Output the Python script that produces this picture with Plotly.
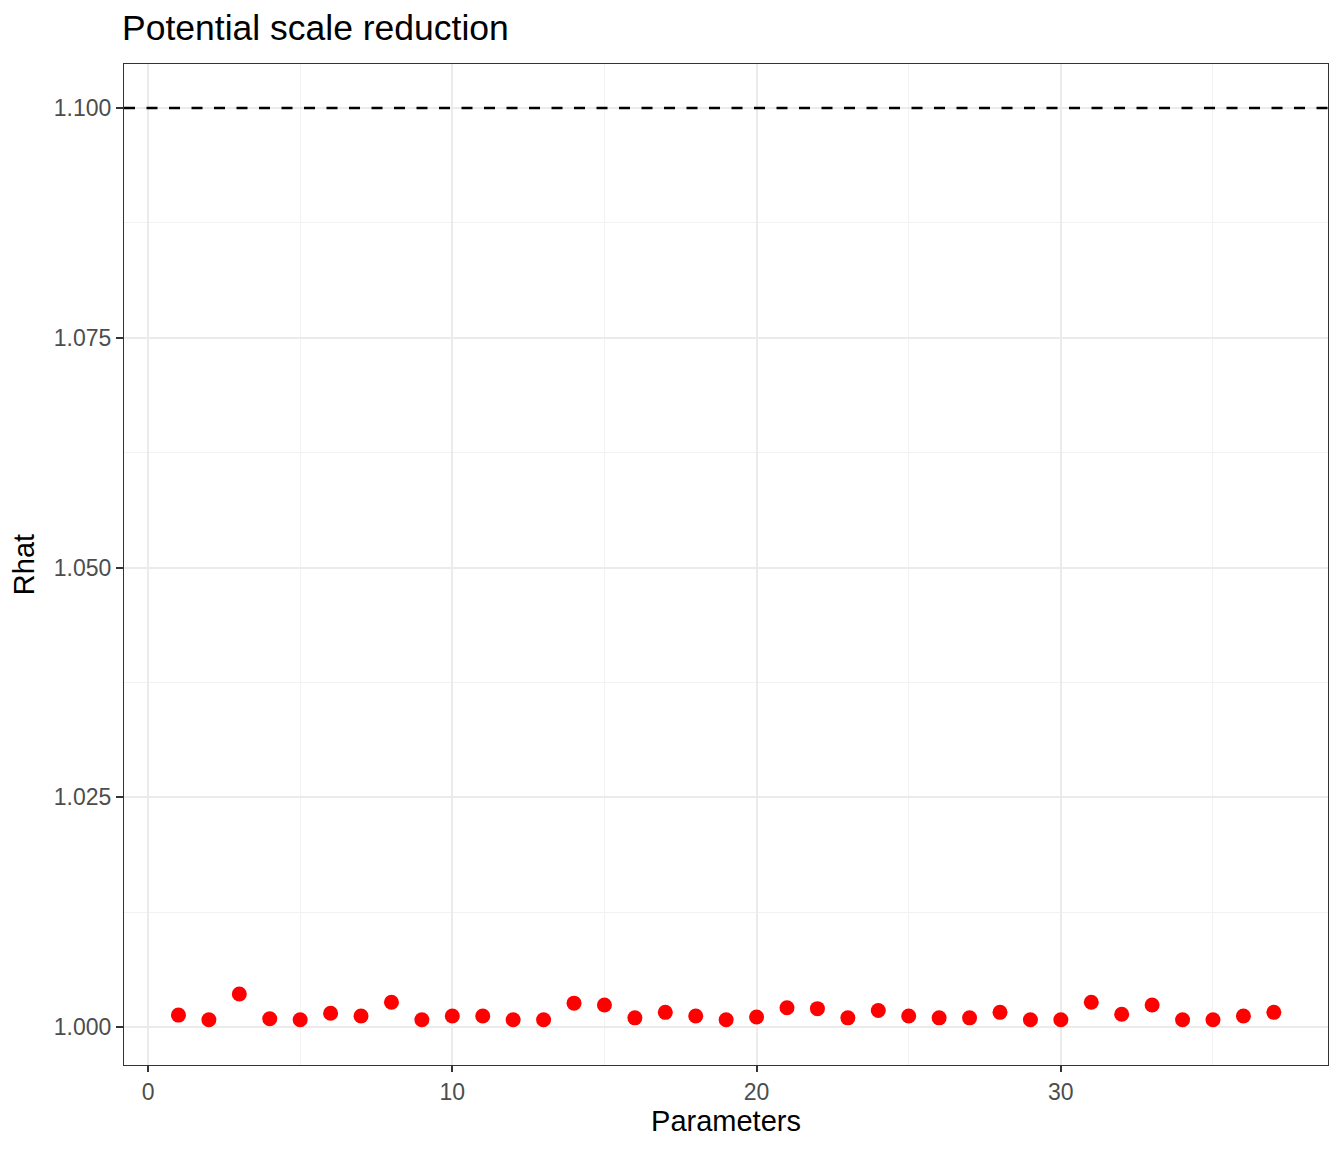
import plotly.graph_objects as go

# Rhat values per parameter
params = list(range(1, 38))
rhat = [1.0013, 1.0008, 1.0036, 1.0009, 1.0008, 1.0015, 1.0012, 1.0027, 1.0008, 1.0012,
        1.0012, 1.0008, 1.0008, 1.0026, 1.0024, 1.0010, 1.0016, 1.0012, 1.0008, 1.0011,
        1.0021, 1.0020, 1.0010, 1.0018, 1.0012, 1.0010, 1.0010, 1.0016, 1.0008, 1.0008,
        1.0027, 1.0014, 1.0024, 1.0008, 1.0008, 1.0012, 1.0016]
threshold = 1.1

fig = go.Figure()

fig.add_trace(go.Scatter(
    x=params, y=rhat, mode='markers',
    marker=dict(color='red', size=15),
    showlegend=False, hoverinfo='x+y'
))

fig.add_hline(y=threshold, line=dict(color='black', width=2.5, dash='11px,11.5px'))

fig.update_layout(
    width=1344, height=1152,
    title=dict(text="Potential scale reduction", x=122/1344, xanchor='left',
               y=1 - 28/1152, yanchor='middle',
               font=dict(size=35.5, color='black')),
    font=dict(family="Liberation Sans, Arial, sans-serif"),
    plot_bgcolor='white', paper_bgcolor='white',
    margin=dict(l=124, r=16, t=64, b=87),
)

fig.update_xaxes(
    range=[-0.79, 38.78], tickvals=[0, 10, 20, 30],
    showgrid=True, gridcolor='#ebebeb', gridwidth=2,
    minor=dict(tickvals=[5, 15, 25, 35], showgrid=True, gridcolor='#f2f2f2', gridwidth=1),
    ticks='outside', ticklen=6, tickwidth=1.5, tickcolor='#333333',
    tickfont=dict(size=23, color='#4d4d4d'),
    showline=True, linecolor='#333333', mirror=True, zeroline=False,
    title=dict(text="Parameters", font=dict(size=29, color='black'), standoff=4),
)

fig.update_yaxes(
    range=[0.99587, 1.1048], tickvals=[1.0, 1.025, 1.05, 1.075, 1.1], tickformat='.3f',
    showgrid=True, gridcolor='#ebebeb', gridwidth=2,
    minor=dict(tickvals=[1.0125, 1.0375, 1.0625, 1.0875], showgrid=True, gridcolor='#f2f2f2', gridwidth=1),
    ticks='outside', ticklen=7, tickwidth=1.5, tickcolor='#333333',
    tickfont=dict(size=23, color='#4d4d4d'),
    showline=True, linecolor='#333333', mirror=True, zeroline=False,
    title=dict(text="Rhat", font=dict(size=29, color='black'), standoff=10),
)

fig.write_html("out.html", config={'displayModeBar': False},
               post_script="document.body.style.margin='0';")
